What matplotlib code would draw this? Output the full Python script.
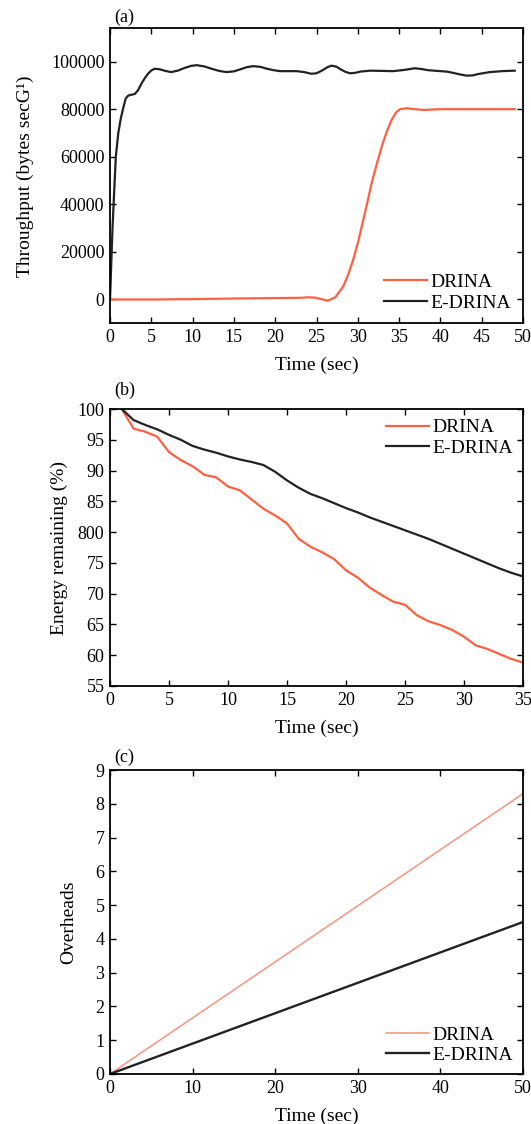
import numpy as np
import matplotlib.pyplot as plt

plt.rcParams['font.family'] = ['Liberation Serif', 'DejaVu Serif']
plt.rcParams['font.size'] = 13

# (a) throughput
t_a_edrina = [0, 0.3, 0.7, 1.0, 1.3, 1.6, 1.9, 2.2, 2.5, 3.0, 3.4, 3.8, 4.2, 4.6, 5.0, 5.4, 6.0,
              6.7, 7.4, 8.2, 9.0, 9.8, 10.5, 11.4, 12.3, 13.2, 14.1, 15.0, 15.8, 16.6, 17.35,
              18.2, 19.0, 19.8, 20.6, 21.6, 22.6, 23.5, 24.4, 25.0, 25.7, 26.3, 26.8, 27.4,
              27.9, 28.5, 29.05, 29.7, 30.3, 31.5, 32.9, 34.3, 35.6, 36.9, 37.7, 38.5, 40.0,
              40.8, 41.5, 42.4, 43.2, 43.9, 44.6, 46.0, 47.5, 49.0]
thr_edrina = [0, 30000, 60000, 70000, 76000, 80500, 84500, 85700, 86000, 86400, 88000, 90700,
              93000, 94900, 96300, 97000, 96800, 96100, 95600, 96200, 97300, 98200, 98500,
              98000, 97000, 96100, 95600, 95900, 96800, 97700, 98100, 97800, 97000, 96400,
              96000, 96000, 96000, 95600, 94900, 95100, 96300, 97600, 98300, 97900, 96800,
              95700, 95100, 95300, 95800, 96200, 96100, 96000, 96500, 97200, 96900, 96400,
              96000, 95800, 95300, 94600, 94100, 94200, 94800, 95600, 96000, 96200]
t_a_drina = [0, 5, 10, 15, 20, 23.0, 24.0, 24.8, 25.6, 26.4, 27.3, 28.25, 28.9, 29.45, 30.1,
             30.67, 31.2, 31.68, 32.3, 32.9, 33.5, 34.1, 34.6, 35.1, 35.9, 36.9, 38.0, 40.0, 49.0]
thr_drina = [0, 0, 150, 400, 600, 700, 900, 800, 100, -500, 1000, 5600, 11000, 16800, 25000,
             33600, 41500, 49000, 57000, 64300, 70500, 75500, 78500, 80000, 80400, 80000, 79700,
             80000, 80000]

# (b) energy remaining
t_b = list(range(1, 36))
energy_edrina = [100, 98.2, 97.4, 96.7, 95.8, 95.0, 94.0, 93.4, 92.9, 92.3, 91.8, 91.4, 90.9, 89.8,
                 88.4, 87.2, 86.2, 85.5, 84.7, 83.9, 83.2, 82.4, 81.7, 81.0, 80.3, 79.6, 78.9, 78.1,
                 77.3, 76.5, 75.7, 74.9, 74.1, 73.4, 72.8]
energy_drina = [100, 96.8, 96.3, 95.5, 93.0, 91.7, 90.7, 89.3, 88.9, 87.4, 86.8, 85.3, 83.8, 82.7,
                81.4, 78.9, 77.6, 76.7, 75.6, 73.8, 72.6, 71.0, 69.8, 68.7, 68.2, 66.5, 65.5, 64.9,
                64.1, 63.0, 61.6, 61.0, 60.2, 59.4, 58.8]

# (c) overheads
t_c = [0, 10, 20, 30, 40, 50]
over_drina = [0, 1.66, 3.32, 4.98, 6.64, 8.3]
over_edrina = [0, 0.9, 1.8, 2.7, 3.6, 4.5]

c_drina = '#ff6040'
c_drina_light = '#f59a88'
c_edrina = '#222222'

fig = plt.figure(figsize=(5.31, 11.24), dpi=100)
ax1 = fig.add_axes([0.2072, 0.7124, 0.7777, 0.2624])
ax2 = fig.add_axes([0.2072, 0.3897, 0.7777, 0.2464])
ax3 = fig.add_axes([0.2072, 0.0445, 0.7777, 0.2704])

leg_kw = dict(frameon=False, fontsize=14, handlelength=2.2, handletextpad=0.2,
              labelspacing=0.15)

ax1.plot(t_a_drina, thr_drina, color=c_drina, lw=1.6, label='DRINA')
ax1.plot(t_a_edrina, thr_edrina, color=c_edrina, lw=1.6, label='E-DRINA')
ax1.set_xlim(0, 50)
ax1.set_ylim(-10000, 114000)
ax1.set_xticks(range(0, 51, 5))
ax1.set_yticks(range(0, 100001, 20000))
ax1.set_ylabel('Throughput (bytes secG¹)', fontsize=14, labelpad=12)
ax1.legend(loc='lower right', borderaxespad=0.2, **leg_kw)

ax2.plot(t_b, energy_drina, color=c_drina, lw=1.6, label='DRINA')
ax2.plot(t_b, energy_edrina, color=c_edrina, lw=1.6, label='E-DRINA')
ax2.set_xlim(0, 35)
ax2.set_ylim(55, 100)
ax2.set_xticks(range(0, 36, 5))
ax2.set_yticks(range(55, 101, 5))
ax2.set_yticklabels(['55', '60', '65', '70', '75', '800', '85', '90', '95', '100'])
ax2.set_ylabel('Energy remaining (%)', fontsize=14, labelpad=7)
ax2.legend(loc='upper right', borderaxespad=0.1, **leg_kw)

ax3.plot(t_c, over_drina, color=c_drina_light, lw=1.2, label='DRINA')
ax3.plot(t_c, over_edrina, color=c_edrina, lw=1.7, label='E-DRINA')
ax3.set_xlim(0, 50)
ax3.set_ylim(0, 9)
ax3.set_xticks(range(0, 51, 10))
ax3.set_yticks(range(0, 10))
ax3.set_ylabel('Overheads', fontsize=14, labelpad=13)
ax3.legend(loc='lower right', borderaxespad=0.1, **leg_kw)

for ax, lab, ly in zip([ax1, ax2, ax3], ['(a)', '(b)', '(c)'], [1.037, 1.069, 1.043]):
    ax.set_xlabel('Time (sec)', fontsize=14, labelpad=8)
    ax.tick_params(direction='in', top=True, right=True, length=4, width=1, pad=4)
    for s in ax.spines.values():
        s.set_linewidth(1.3)
    ax.text(0.01, ly, lab, transform=ax.transAxes, ha='left', va='center')

fig.savefig('out.png', dpi=100)
